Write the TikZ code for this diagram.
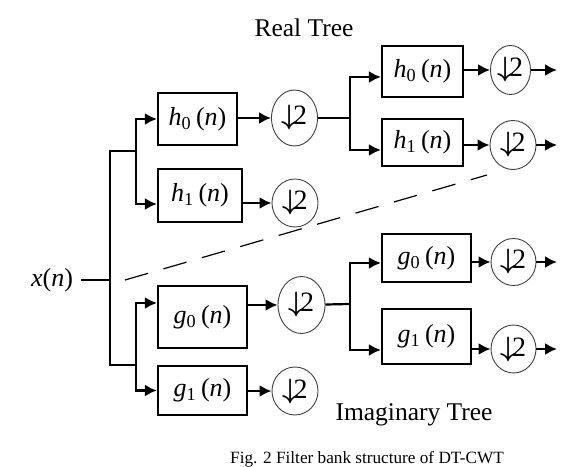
\RequirePackage{fix-cm}
\documentclass[tikz,border=0pt]{standalone}
\usepackage{amsmath}
\usepackage{fontspec}
\setmainfont{Liberation Serif}
\usetikzlibrary{positioning,arrows.meta,shapes.geometric}

\begin{document}
\begin{tikzpicture}[x=0.5bp,y=-0.5bp,>={Latex[length=6bp,width=6bp]},line width=1.1bp]
    \tikzstyle{filt}=[draw,line width=1.1bp,inner sep=1bp,font=\fontsize{13bp}{15bp}\selectfont]
    \tikzstyle{dsamp}=[draw=black!75,ellipse,line width=.45bp,inner sep=0pt,minimum width=23bp,minimum height=24bp,font=\fontsize{14bp}{15bp}\selectfont]
    \tikzstyle{title}=[font=\fontsize{12.75bp}{15bp}\selectfont]
    \useasboundingbox (0,0) rectangle (561,467);
    \node[title] (rt)  at (304,28)  {Real Tree};
    \node[title] (it)  at (414,415) {Imaginary Tree};
    \node[font=\fontsize{8.6bp}{10bp}\selectfont] (cap) at (367,459) {Fig. 2 Filter bank structure of DT-CWT};
    \node[font=\fontsize{13bp}{15bp}\selectfont] (xin) at (52,280) {\textit{x}(\textit{n})};
    \node[filt,minimum width=39.5bp,minimum height=26bp]   (h0a) at (197.5,119) {\textit{h}\textsubscript{0}\,(\textit{n})};
    \node[filt,minimum width=42bp,minimum height=26.5bp]   (h1a) at (200,195.5) {\textit{h}\textsubscript{1}\,(\textit{n})};
    \node[filt,minimum width=44.5bp,minimum height=31bp]   (g0a) at (202.5,317) {\textit{g}\textsubscript{0}\,(\textit{n})};
    \node[filt,minimum width=44.5bp,minimum height=24.5bp] (g1a) at (202.5,390.5){\textit{g}\textsubscript{1}\,(\textit{n})};
    \node[filt,minimum width=40.5bp,minimum height=25.5bp] (h0b) at (422.5,71.5) {\textit{h}\textsubscript{0}\,(\textit{n})};
    \node[filt,minimum width=40.5bp,minimum height=23.5bp] (h1b) at (422.5,142.5){\textit{h}\textsubscript{1}\,(\textit{n})};
    \node[filt,minimum width=44.5bp,minimum height=24bp]   (g0b) at (426.5,258)  {\textit{g}\textsubscript{0}\,(\textit{n})};
    \node[filt,minimum width=44.5bp,minimum height=27.5bp] (g1b) at (426.5,336.5){\textit{g}\textsubscript{1}\,(\textit{n})};
    \node[dsamp,minimum height=28bp]                      (d1) at (294.5,118) {$\boldsymbol{\downarrow}$\kern-2.5bp 2};
    \node[dsamp]                                          (d2) at (295,203)   {$\boldsymbol{\downarrow}$\kern-2.5bp 2};
    \node[dsamp,minimum width=23.5bp,minimum height=28.5bp] (d3) at (301.5,305) {$\boldsymbol{\downarrow}$\kern-2.5bp 2};
    \node[dsamp]                                          (d4) at (295,391)   {$\boldsymbol{\downarrow}$\kern-2.5bp 2};
    \node[dsamp,minimum width=20bp,minimum height=24.5bp] (d5) at (510.5,70)  {$\boldsymbol{\downarrow}$\kern-2.5bp 2};
    \node[dsamp,minimum height=24.5bp]                    (d6) at (513,145)   {$\boldsymbol{\downarrow}$\kern-2.5bp 2};
    \node[dsamp,minimum width=22.5bp,minimum height=23.5bp] (d7) at (513.5,262) {$\boldsymbol{\downarrow}$\kern-2.5bp 2};
    \node[dsamp,minimum width=22.5bp]                     (d8) at (513.5,349) {$\boldsymbol{\downarrow}$\kern-2.5bp 2};
    \coordinate (s0) at (110,280);
    \coordinate (su) at (110,151);
    \coordinate (sl) at (110,365);
    \coordinate (ru) at (136,151);
    \coordinate (iu) at (136,365);
    \coordinate (rs) at (350,118);
    \coordinate (is) at (350,304);
    \coordinate (o5) at (557,70);
    \coordinate (o6) at (557,145);
    \coordinate (o7) at (557,262);
    \coordinate (o8) at (557,349);
    \coordinate (da) at (125,280);
    \coordinate (db) at (487,175);
    % input and first split
    \draw (xin) -- (s0);
    \draw (ru) -- (su) -- (sl) -- (iu);
    \draw[->] (ru) |- (h0a.west);
    \draw[->] (ru) |- ([yshift=-4.25bp]h1a.west);
    \draw[->] (iu) |- ([yshift=7bp]g0a.west);
    \draw[->] (iu) |- (g1a.west);
    \draw[->] (h0a.east |- d1) -- (d1);
    \draw[->] (h1a.east |- d2) -- (d2);
    \draw[->] (g0a.east |- d3) -- (d3);
    \draw[->] (g1a.east |- d4) -- (d4);
    % second level
    \draw (d1) -- (rs);
    \draw (d3) -- (is);
    \draw[->] (rs) |- ([yshift=-2.75bp]h0b.west);
    \draw[->] (rs) |- ([yshift=-3.75bp]h1b.west);
    \draw[->] (is) |- ([yshift=-2.5bp]g0b.west);
    \draw[->] (is) |- ([yshift=-6.75bp]g1b.west);
    \draw[->] (h0b.east |- d5) -- (d5);
    \draw[->] (h1b.east |- d6) -- (d6);
    \draw[->] (g0b.east |- d7) -- (d7);
    \draw[->] (g1b.east |- d8) -- (d8);
    \draw[->] (d5) -- (o5);
    \draw[->] (d6) -- (o6);
    \draw[->] (d7) -- (o7);
    \draw[->] (d8) -- (o8);
    \draw[dash pattern=on 12bp off 8bp,line width=.6bp] (da) -- (db);
  \end{tikzpicture}
\end{document}
